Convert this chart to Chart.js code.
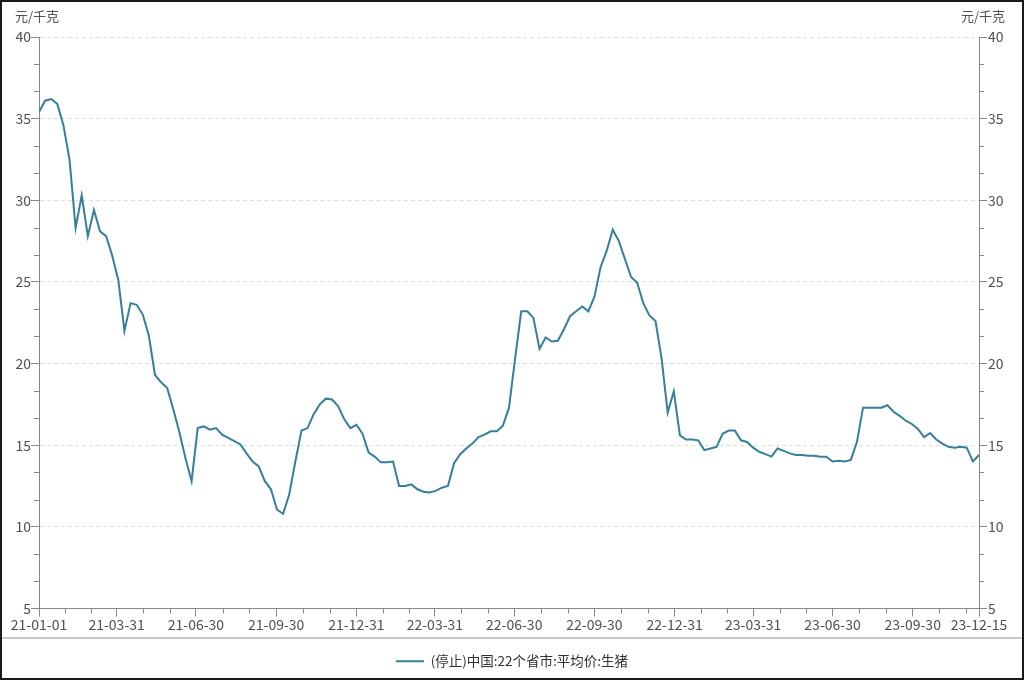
<!DOCTYPE html>
<html>
<head>
<meta charset="utf-8">
<script src="https://cdn.jsdelivr.net/npm/chart.js@4.4.1/dist/chart.umd.min.js"></script>
<style>
  html, body { margin: 0; padding: 0; background: #fff; }
  #wrap { position: relative; width: 1024px; height: 680px; }
</style>
</head>
<body>
<div id="wrap"><canvas id="chart"></canvas></div>
<script>
// --- data: weekly prices (Fridays) from 2021-01-01 to 2023-12-15
const startDate = "2021-01-01";
const seriesName = "(停止)中国:22个省市:平均价:生猪";
const unitLabel = "元/千克";

const prices = [
  35.4, 36.1, 36.2, 35.9, 34.6, 32.5, 28.3, 30.3, 27.8, 29.4,
  28.1, 27.8, 26.6, 25.1, 22.0, 23.7, 23.6, 23.0, 21.7, 19.3,
  18.85, 18.5, 17.2, 15.8, 14.2, 12.8, 16.05, 16.15, 15.95, 16.05,
  15.65, 15.45, 15.25, 15.05, 14.5, 14.0, 13.7, 12.8, 12.3, 11.05,
  10.8, 12.0, 14.0, 15.9, 16.05, 16.9, 17.5, 17.85, 17.8, 17.4,
  16.6, 16.05, 16.25, 15.7, 14.55, 14.3, 13.95, 13.95, 14.0, 12.5,
  12.5, 12.6, 12.3, 12.15, 12.1, 12.2, 12.4, 12.5, 13.9, 14.45,
  14.8, 15.1, 15.5, 15.65, 15.85, 15.85, 16.2, 17.3, 20.3, 23.2,
  23.2, 22.8, 20.9, 21.6, 21.35, 21.4, 22.1, 22.9, 23.2, 23.5,
  23.2, 24.1, 25.9, 26.9, 28.2, 27.5, 26.4, 25.3, 24.95, 23.7,
  22.95, 22.6, 20.3, 17.0, 18.3, 15.6, 15.35, 15.35, 15.3, 14.7,
  14.8, 14.9, 15.7, 15.9, 15.9, 15.3, 15.2, 14.85, 14.6, 14.45,
  14.3, 14.8, 14.65, 14.5, 14.4, 14.4, 14.35, 14.35, 14.3, 14.3,
  14.0, 14.05, 14.0, 14.1, 15.2, 17.3, 17.3, 17.3, 17.3, 17.45,
  17.05, 16.8, 16.5, 16.3, 16.0, 15.5, 15.75, 15.35, 15.1, 14.9,
  14.85, 14.9, 14.85, 14.0, 14.4
];

// x axis labels
const tickDates = [
  "2021-01-01", "2021-03-31", "2021-06-30", "2021-09-30", "2021-12-31",
  "2022-03-31", "2022-06-30", "2022-09-30", "2022-12-31",
  "2023-03-31", "2023-06-30", "2023-09-30", "2023-12-15"
];
const yMin = 5, yMax = 40, yStep = 5;

// --- helpers
const DAY = 86400000;
const dayOf = s => (Date.parse(s) - Date.parse(startDate)) / DAY;
const weekDates = prices.map((_, i) =>
  new Date(Date.parse(startDate) + i * 7 * DAY).toISOString().slice(0, 10));
const tickDays = tickDates.map(dayOf);
const xMax = tickDays[tickDays.length - 1];

const AXIS = "#888";
const TEXT = "#505050";
const LINE = "#367f99";
const FONT = "'Noto Sans CJK SC', 'Noto Sans', sans-serif";

Chart.defaults.font.family = FONT;
Chart.defaults.font.size = 14;
Chart.defaults.color = TEXT;

// minor ticks, axis unit labels, separator and frame
const decor = {
  id: "decor",
  afterDraw(chart) {
    const { ctx, chartArea: a, scales: { x, y } } = chart;
    ctx.save();
    ctx.strokeStyle = AXIS;
    ctx.lineWidth = 1;
    ctx.beginPath();
    // x minor ticks: thirds of each label interval
    let step = 0;
    for (let k = 0; k < tickDays.length - 1; k++) {
      const d0 = tickDays[k], d1 = tickDays[k + 1];
      if (k < tickDays.length - 2) step = (d1 - d0) / 3;
      for (let m = 1; m < 3; m++) {
        const d = d0 + step * m;
        if (d >= d1 - 2) break;
        const px = Math.round(x.getPixelForValue(d)) + 0.5;
        ctx.moveTo(px, a.bottom);
        ctx.lineTo(px, a.bottom + 5);
      }
    }
    // y minor ticks on both sides
    for (let v = yMin; v < yMax; v += yStep) {
      for (let m = 1; m < 3; m++) {
        const py = Math.round(y.getPixelForValue(v + yStep * m / 3)) + 0.5;
        ctx.moveTo(a.left - 5, py); ctx.lineTo(a.left, py);
        ctx.moveTo(a.right, py); ctx.lineTo(a.right + 5, py);
      }
    }
    ctx.stroke();

    // unit labels
    ctx.fillStyle = TEXT;
    ctx.font = "13px " + FONT;
    ctx.textBaseline = "middle";
    ctx.textAlign = "left";
    ctx.fillText(unitLabel, 15, 16);
    ctx.textAlign = "right";
    ctx.fillText(unitLabel, 1005, 16);

    // separator above legend
    ctx.strokeStyle = "#c8c8c8";
    ctx.lineWidth = 2;
    ctx.beginPath();
    ctx.moveTo(0, 638); ctx.lineTo(chart.width, 638);
    ctx.stroke();

    // outer frame
    ctx.strokeStyle = "#1a1a1a";
    ctx.lineWidth = 2;
    ctx.strokeRect(1, 1, chart.width - 2, chart.height - 2);
    ctx.restore();
  }
};

new Chart(document.getElementById("chart"), {
  type: "line",
  data: {
    datasets: [{
      label: seriesName,
      data: prices.map((v, i) => ({ x: dayOf(weekDates[i]), y: v })),
      borderColor: LINE,
      backgroundColor: LINE,
      borderWidth: 2,
      pointRadius: 0,
      pointHoverRadius: 0,
      pointStyle: "line",
      tension: 0,
      fill: false,
      yAxisID: "y"
    }]
  },
  options: {
    responsive: true,
    maintainAspectRatio: false,
    animation: false,
    layout: { padding: { top: 37, left: 0, right: 0, bottom: 2 } },
    plugins: {
      tooltip: { enabled: false },
      legend: {
        position: "bottom",
        labels: {
          usePointStyle: true,
          pointStyle: "line",
          pointStyleWidth: 28,
          padding: 18,
          color: "#333",
          font: { size: 13.5 }
        }
      }
    },
    scales: {
      x: {
        type: "linear",
        min: 0,
        max: xMax,
        afterBuildTicks: s => { s.ticks = tickDays.map(v => ({ value: v })); },
        afterFit: s => { s.height = 28; },
        ticks: {
          autoSkip: false,
          maxRotation: 0,
          padding: 0,
          color: TEXT,
          callback: v => {
            const k = tickDays.indexOf(v);
            return k >= 0 ? tickDates[k].slice(2) : "";
          }
        },
        grid: { drawOnChartArea: false, drawTicks: true, tickLength: 8, tickColor: AXIS },
        border: { display: true, color: AXIS, width: 1 }
      },
      y: {
        position: "left",
        min: yMin,
        max: yMax,
        afterFit: s => { s.width = 39; },
        ticks: { stepSize: yStep, padding: 0, color: TEXT },
        grid: {
          drawTicks: true,
          tickLength: 8,
          tickColor: AXIS,
          color: c => (c.tick && c.tick.value === yMin ? "rgba(0,0,0,0)" : "#dedede")
        },
        border: { display: true, color: AXIS, width: 1, dash: [4, 3] }
      },
      y2: {
        position: "right",
        min: yMin,
        max: yMax,
        afterFit: s => { s.width = 45; },
        ticks: { stepSize: yStep, padding: 1, color: TEXT },
        grid: { drawOnChartArea: false, drawTicks: true, tickLength: 8, tickColor: AXIS },
        border: { display: true, color: AXIS, width: 1 }
      }
    }
  },
  plugins: [decor]
});
</script>
</body>
</html>
